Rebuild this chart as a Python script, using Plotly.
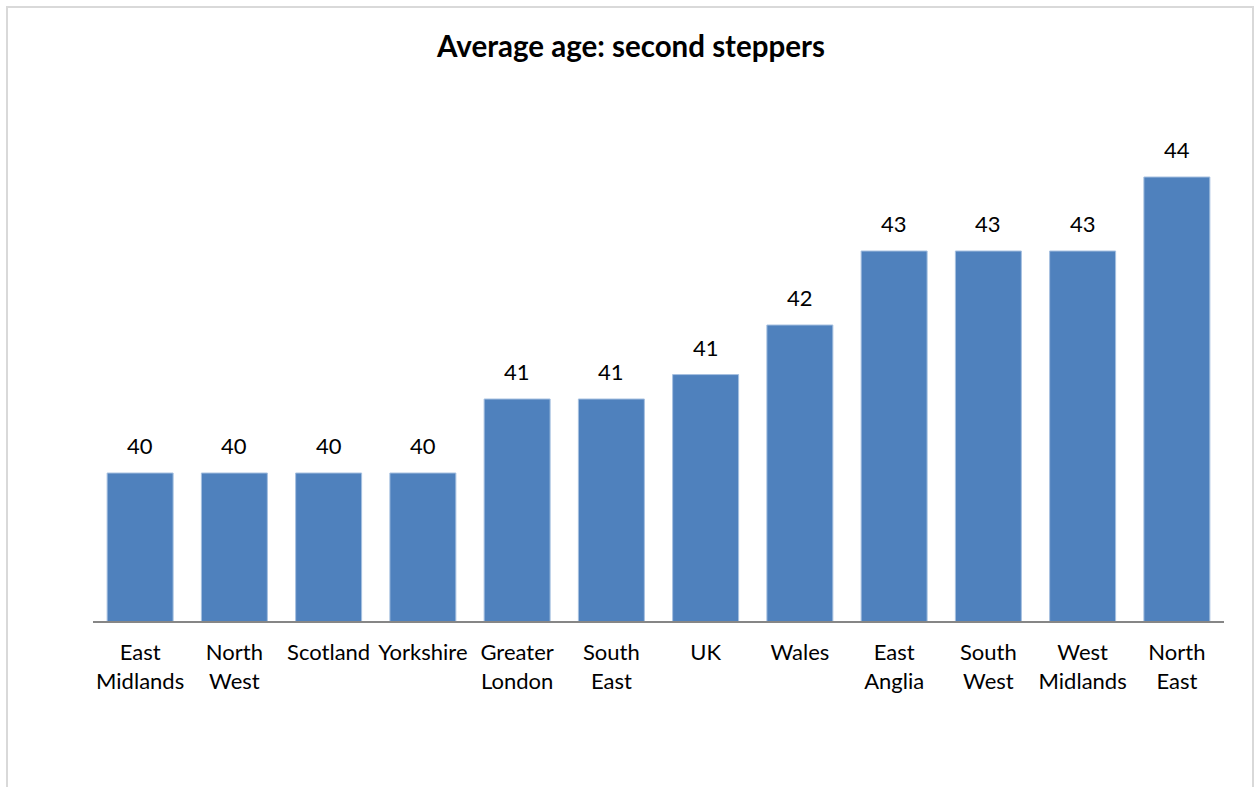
import plotly.graph_objects as go

categories = ["East<br>Midlands", "North<br>West", "Scotland", "Yorkshire", "Greater<br>London",
              "South<br>East", "UK", "Wales", "East<br>Anglia", "South<br>West", "West<br>Midlands",
              "North<br>East"]
values = [40.0, 40.0, 40.0, 40.0, 41.0, 41.0, 41.33, 42.0, 43.0, 43.0, 43.0, 44.0]
labels = ["40", "40", "40", "40", "41", "41", "41", "42", "43", "43", "43", "44"]
title = "Average age: second steppers"

FONT = "Lato, 'Open Sans', sans-serif"

fig = go.Figure()
fig.add_trace(go.Bar(
    x=categories, y=values,
    marker=dict(color="#4F81BD", line=dict(color="#A6C0E0", width=1)),
    width=0.7,
))

for c, v, t in zip(categories, values, labels):
    fig.add_annotation(x=c, y=v, text=t, showarrow=False, yanchor="bottom",
                       yshift=12, font=dict(family=FONT, size=22, color="#000000"))

W, H = 1256, 787
ml, mr, mt, mb = 93, 32, 103, 166
pw, ph = W - ml - mr, H - mt - mb

def px(x):
    return (x - ml) / pw

def py(y):
    return (H - mb - y) / ph

fig.add_shape(type="rect", xref="paper", yref="paper",
              x0=px(7), x1=px(1253), y0=py(7), y1=py(800),
              line=dict(color="#D9D9D9", width=2), fillcolor="rgba(0,0,0,0)", layer="below")

fig.update_layout(
    width=W, height=H,
    margin=dict(l=ml, r=mr, t=mt, b=mb),
    paper_bgcolor="white", plot_bgcolor="white",
    title=dict(text="<b>" + title + "</b>", x=631 / W, xref="container", xanchor="center",
               y=1 - 47 / H, yanchor="middle",
               font=dict(family=FONT, size=29.5, color="#000000")),
    showlegend=False,
    bargap=0.3,
    font=dict(family=FONT),
    xaxis=dict(showline=True, linecolor="#868686", linewidth=2, ticks="outside",
               ticklen=11, tickcolor="rgba(0,0,0,0)", showgrid=False, zeroline=False,
               tickfont=dict(family=FONT, size=22, color="#000000"), fixedrange=True),
    yaxis=dict(range=[38, 45], visible=False, fixedrange=True),
)

fig.write_html("out.html")
